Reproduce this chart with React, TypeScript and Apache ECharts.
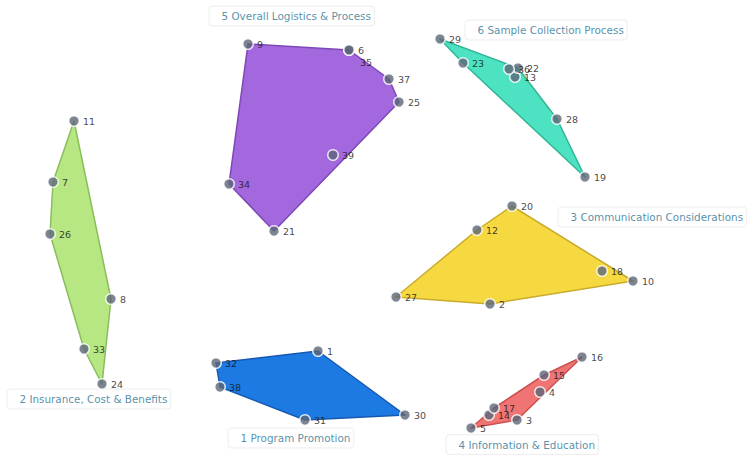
import React, { useEffect, useRef } from "react";
import * as echarts from "echarts";

// Statement ids, map coordinates and cluster membership
const statementIds = [
  1, 2, 3, 4, 5, 6, 7, 8, 9, 10, 11, 12, 13, 14, 15, 16, 17, 18, 19, 20,
  21, 22, 23, 24, 25, 26, 27, 28, 29, 30, 31, 32, 33, 34, 35, 36, 37, 38, 39,
];
const statementX = [
  318, 490, 517, 540, 471, 349, 53, 111, 248, 633, 74, 477, 515, 489, 544, 582, 494, 602, 585, 512,
  274, 518, 463, 102, 399, 50, 396, 557, 440, 405, 305, 216, 84, 229, 349, 509, 389, 220, 333,
];
const statementY = [
  351, 304, 420, 392, 428, 50, 182, 299, 44, 281, 121, 230, 77, 415, 375, 357, 408, 271, 177, 206,
  231, 68, 63, 384, 102, 234, 297, 119, 39, 415, 420, 363, 349, 184, 50, 69, 79, 387, 155,
];
const statementCluster = [
  1, 3, 4, 4, 4, 5, 2, 2, 5, 3, 2, 3, 6, 4, 4, 4, 4, 3, 6, 3,
  5, 6, 6, 2, 5, 2, 3, 6, 6, 1, 1, 1, 2, 5, 5, 6, 5, 1, 5,
];

// Cluster names and label anchor points (left edge, vertical centre)
const clusterNames = [
  "1 Program Promotion",
  "2 Insurance, Cost & Benefits",
  "3 Communication Considerations",
  "4 Information & Education",
  "5 Overall Logistics & Process",
  "6 Sample Collection Process",
];
const clusterLabelX = [228, 7, 558, 446, 209, 465];
const clusterLabelY = [438, 399, 217, 444.5, 16, 30];

const clusterFill = ["#1c7ae2", "#b6e783", "#f6d941", "#ef7473", "#a367de", "#4de3c2"];
const clusterEdge = ["#1759b0", "#8bbd5c", "#c9ab2c", "#c9514f", "#7d48b6", "#32b597"];

type Pt = [number, number];

function convexHull(points: Pt[]): Pt[] {
  const pts = points.slice().sort((a, b) => (a[0] === b[0] ? a[1] - b[1] : a[0] - b[0]));
  if (pts.length < 3) return pts;
  const cross = (o: Pt, a: Pt, b: Pt) => (a[0] - o[0]) * (b[1] - o[1]) - (a[1] - o[1]) * (b[0] - o[0]);
  const lower: Pt[] = [];
  for (const p of pts) {
    while (lower.length >= 2 && cross(lower[lower.length - 2], lower[lower.length - 1], p) <= 0) lower.pop();
    lower.push(p);
  }
  const upper: Pt[] = [];
  for (let i = pts.length - 1; i >= 0; i--) {
    const p = pts[i];
    while (upper.length >= 2 && cross(upper[upper.length - 2], upper[upper.length - 1], p) <= 0) upper.pop();
    upper.push(p);
  }
  upper.pop();
  lower.pop();
  return lower.concat(upper);
}

export default function App() {
  const ref = useRef<HTMLDivElement>(null);

  useEffect(() => {
    if (!ref.current) return;
    const chart = echarts.init(ref.current, undefined, { renderer: "svg" });

    const clusterPoints: Pt[][] = clusterNames.map((_, ci) =>
      statementIds
        .map((_, i) => i)
        .filter((i) => statementCluster[i] === ci + 1)
        .map((i) => [statementX[i], statementY[i]] as Pt)
    );
    const hulls = clusterPoints.map((pts) => convexHull(pts));

    const pointData = statementIds.map((id, i) => {
      const item: any = { name: String(id), value: [statementX[i], statementY[i]] };
      if (id === 35) item.label = { offset: [2, 12] };
      return item;
    });

    const option: any = {
      animation: false,
      grid: { left: 0, right: 0, top: 0, bottom: 0 },
      xAxis: { type: "value", min: 0, max: 749, show: false },
      yAxis: { type: "value", min: 0, max: 464, inverse: true, show: false },
      series: [
        {
          type: "custom",
          coordinateSystem: "cartesian2d",
          clip: false,
          z: 1,
          data: clusterNames.map((_, ci) => [clusterPoints[ci][0][0], clusterPoints[ci][0][1], ci]),
          encode: { x: 0, y: 1 },
          renderItem: (params: any, api: any) => {
            const ci = params.dataIndex;
            const pts = hulls[ci].map((p) => api.coord(p));
            return {
              type: "polygon",
              shape: { points: pts },
              style: {
                fill: clusterFill[ci],
                stroke: clusterEdge[ci],
                lineWidth: 1.5,
                lineJoin: "round",
              },
            };
          },
        },
        {
          type: "scatter",
          z: 3,
          symbol: "circle",
          symbolSize: 10.5,
          itemStyle: { color: "#5d6678", borderColor: "#ffffff", borderWidth: 1.5 },
          label: {
            show: true,
            position: "right",
            distance: 3,
            formatter: "{b}",
            fontFamily: "DejaVu Sans",
            fontSize: 9.5,
            color: "#111111",
          },
          data: pointData,
        },
        {
          type: "scatter",
          z: 4,
          symbol: "circle",
          symbolSize: 1,
          itemStyle: { color: "rgba(255,255,255,0)" },
          label: {
            show: true,
            position: "right",
            distance: 0,
            formatter: "{b}",
            fontFamily: "DejaVu Sans",
            fontSize: 10.4,
            color: "#2a7392",
            backgroundColor: "#ffffff",
            borderColor: "#ebebeb",
            borderWidth: 1,
            borderRadius: 3,
            padding: [5, 3, 4, 12],
          },
          data: clusterNames.map((n, ci) => ({ name: n, value: [clusterLabelX[ci], clusterLabelY[ci]] })),
        },
      ],
    };
    chart.setOption(option);
    return () => chart.dispose();
  }, []);

  return (
    <div
      ref={ref}
      style={{ position: "fixed", left: 0, top: 0, width: 749, height: 464, background: "#ffffff" }}
    />
  );
}
